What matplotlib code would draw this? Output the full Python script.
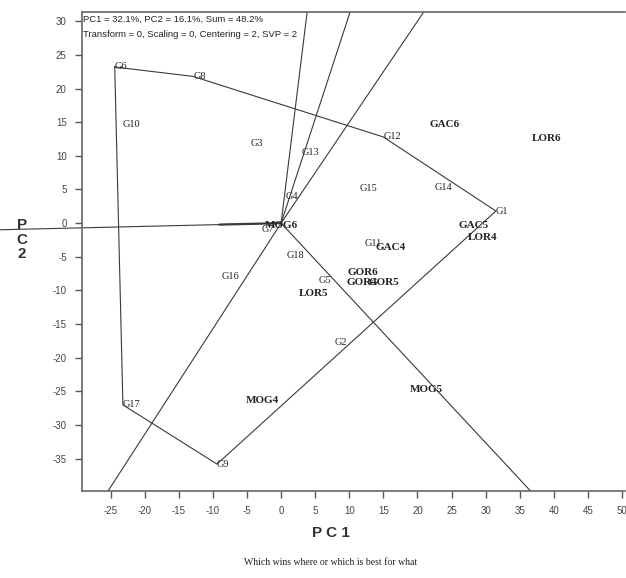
import numpy as np
import matplotlib
matplotlib.use("Agg")
import matplotlib.pyplot as plt

plt.rcParams["axes.unicode_minus"] = False

# genotype scores (PC1, PC2)
gen_names = ["G1", "G2", "G3", "G4", "G5", "G6", "G7", "G8", "G9", "G10",
             "G11", "G12", "G13", "G14", "G15", "G16", "G17", "G18"]
gen_pc1 = [31.5, 7.9, -4.5, 0.6, 5.5, -24.4, -2.9, -12.9, -9.4, -23.3,
           12.3, 15.0, 3.0, 22.5, 11.5, -8.7, -23.2, 0.8]
gen_pc2 = [1.8, -17.8, 11.9, 3.9, -8.5, 23.2, -1.0, 21.8, -35.8, 14.6,
           -3.0, 12.8, 10.5, 5.3, 5.1, -8.0, -27.0, -4.8]

# environment scores
env_names = ["GAC6", "LOR6", "GAC5", "LOR4", "GAC4", "MOG6",
             "GOR6", "GOR4", "GOR5", "LOR5", "MOG5", "MOG4"]
env_pc1 = [24.0, 38.9, 28.2, 29.5, 16.0, 0.1, 12.0, 11.9, 15.1, 4.7, 21.3, -2.8]
env_pc2 = [14.7, 12.6, -0.3, -2.1, -3.6, -0.3, -7.4, -8.8, -8.8, -10.5, -24.7, -26.4]

# vertices of the convex hull, in drawing order
hull = ["G6", "G8", "G12", "G1", "G9", "G17"]

header = ["PC1 = 32.1%, PC2 = 16.1%, Sum = 48.2%",
          "Transform = 0, Scaling = 0, Centering = 2, SVP = 2"]

fig = plt.figure(figsize=(6.26, 5.78), dpi=100)
ax = fig.add_axes([0.131, 0.1505, 0.867, 0.8285])
ax.set_xlim(-29.2, 50.4)
ax.set_ylim(-39.8, 31.35)

lc = "#3a3a3a"
idx = {n: i for i, n in enumerate(gen_names)}
pts = np.array([[gen_pc1[idx[n]], gen_pc2[idx[n]]] for n in hull])
closed = np.vstack([pts, pts[:1]])
ax.plot(closed[:, 0], closed[:, 1], color=lc, lw=0.8)

# rays from origin perpendicular to each side of the polygon
for i in range(len(pts)):
    a = pts[i]
    b = pts[(i + 1) % len(pts)]
    d = b - a
    t = -np.dot(a, d) / np.dot(d, d)
    foot = a + t * d
    u = foot / np.linalg.norm(foot)
    if i == len(pts) - 1:
        # this one runs out past the frame to the left edge of the figure
        s = (-41.2) / u[0]
        ax.plot([0, u[0] * s], [0, u[1] * s], color=lc, lw=0.8, clip_on=False)
        ax.plot([0, u[0] * 9], [0, u[1] * 9], color=lc, lw=1.6)
    else:
        ax.plot([0, u[0] * 200], [0, u[1] * 200], color=lc, lw=0.8)

for n, x, y in zip(gen_names, gen_pc1, gen_pc2):
    ax.text(x, y, n, fontsize=7.5, family="Liberation Serif", color="#222222",
            ha="left", va="center")

for n, x, y in zip(env_names, env_pc1, env_pc2):
    ax.text(x, y, n, fontsize=8, family="Liberation Serif", fontweight="bold",
            color="#222222", ha="center", va="center")

ax.text(0.002, 0.995, header[0], transform=ax.transAxes, fontsize=6.8,
        family="Liberation Sans", color="#222222", va="top")
ax.text(0.002, 0.962, header[1], transform=ax.transAxes, fontsize=6.8,
        family="Liberation Sans", color="#222222", va="top")

ax.set_xticks(np.arange(-25, 51, 5))
ax.set_yticks(np.arange(-35, 31, 5))
ax.tick_params(direction="out", length=5, width=1, colors="#555555",
               labelsize=7, labelcolor="#444444", pad=6)
for lab in ax.get_xticklabels() + ax.get_yticklabels():
    lab.set_family("Liberation Sans")
for side in ["left", "bottom", "top"]:
    ax.spines[side].set_color("#666666")
    ax.spines[side].set_linewidth(1.2)
ax.spines["right"].set_visible(False)

fig.text(0.528, 0.078, "P C 1", fontsize=11, fontweight="bold",
         family="Liberation Sans", color="#333333", ha="center", va="center")
fig.text(0.035, 0.585, "P\nC\n2", fontsize=11, fontweight="bold",
         family="Liberation Sans", color="#333333", ha="center", va="center",
         linespacing=1.05)
fig.text(0.528, 0.026, "Which wins where or which is best for what", fontsize=7,
         family="Liberation Serif", color="#222222", ha="center", va="center")

fig.savefig("out.png", dpi=100)
